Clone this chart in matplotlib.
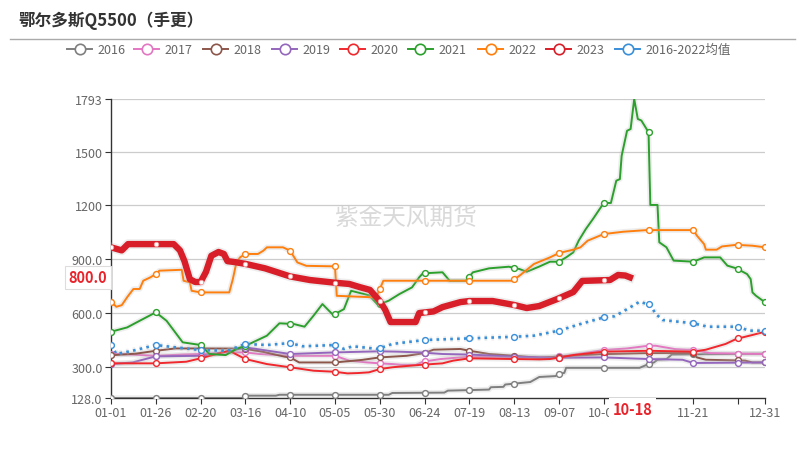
import numpy as np
import pandas as pd
import matplotlib
matplotlib.use('Agg')
import matplotlib.pyplot as plt
from matplotlib.lines import Line2D
from matplotlib import patheffects as pe
import matplotlib.transforms as mtransforms

plt.rcParams['font.family'] = ['Noto Sans CJK SC', 'DejaVu Sans']

# ---------------- data ----------------
title = '鄂尔多斯Q5500（手更）'
watermark = '紫金天风期货'
series_names = ['2016', '2017', '2018', '2019', '2020', '2021', '2022', '2023', '2016-2022均值']

# day index within a (leap) year, value
d2016 = [0, 74, 75, 92, 94, 155, 157, 186, 188, 200, 211, 212, 219, 220, 225, 234, 239, 248, 250, 253, 254, 295, 300, 303, 305, 310, 313, 365]
v2016 = [128, 128, 141, 141, 146, 146, 156, 158, 169, 172, 175, 188, 190, 203, 208, 217, 245, 250, 262, 268, 296, 296, 317, 326, 341, 345, 370, 375]

d2017 = [0, 15, 25, 40, 50, 66, 75, 83, 100, 125, 133, 143, 150, 157, 162, 170, 174, 184, 200, 225, 245, 254, 275, 288, 300, 304, 315, 321, 325, 334, 365]
v2017 = [375, 368, 363, 370, 373, 382, 382, 373, 363, 363, 336, 326, 321, 317, 313, 312, 330, 345, 358, 354, 355, 363, 395, 404, 419, 419, 400, 397, 397, 378, 373]

d2018 = [0, 14, 25, 36, 50, 74, 85, 97, 100, 105, 125, 140, 150, 165, 175, 180, 195, 200, 211, 225, 239, 275, 300, 325, 327, 332, 354, 358, 365]
v2018 = [366, 375, 391, 404, 404, 403, 385, 358, 354, 326, 326, 340, 354, 363, 378, 397, 401, 391, 373, 363, 352, 373, 378, 378, 354, 341, 336, 326, 326]

d2019 = [0, 12, 25, 50, 68, 74, 79, 100, 125, 150, 160, 172, 185, 200, 225, 245, 275, 300, 319, 325, 365]
v2019 = [317, 326, 360, 363, 391, 410, 404, 373, 382, 388, 386, 382, 373, 370, 358, 352, 354, 345, 341, 323, 326]

d2020 = [0, 25, 42, 50, 59, 66, 75, 87, 100, 113, 125, 132, 138, 144, 150, 157, 160, 172, 185, 191, 200, 225, 239, 245, 258, 275, 300, 325, 332, 343, 349, 358, 365]
v2020 = [321, 321, 330, 349, 373, 391, 345, 317, 299, 280, 274, 265, 267, 271, 289, 299, 302, 312, 321, 336, 349, 345, 343, 345, 367, 386, 391, 386, 397, 429, 457, 479, 497]

d2021 = [0, 9, 16, 25, 31, 40, 50, 55, 64, 70, 76, 87, 94, 102, 108, 113, 118, 124, 130, 134, 144, 149, 155, 161, 168, 172, 174, 185, 189, 198, 202, 211, 222, 228, 232, 239, 245, 250, 254, 258, 261, 265, 269, 275, 279, 282, 284, 285, 288, 290, 292, 294, 296, 300, 301, 305, 306, 310, 314, 325, 331, 340, 344, 349, 355, 357, 358, 360, 365]
v2021 = [497, 521, 558, 605, 558, 438, 423, 373, 367, 401, 423, 475, 544, 540, 525, 586, 651, 590, 623, 725, 700, 646, 670, 707, 744, 800, 822, 828, 781, 781, 828, 850, 859, 846, 831, 860, 887, 887, 911, 939, 1004, 1069, 1125, 1214, 1214, 1338, 1347, 1477, 1616, 1626, 1793, 1682, 1673, 1608, 1203, 1203, 995, 967, 893, 887, 911, 911, 865, 850, 818, 790, 716, 697, 661]

d2022 = [0, 3, 6, 9, 12.5, 16, 18, 22, 25.5, 27, 39.5, 40.5, 44, 45, 50, 66, 68, 70, 72, 75, 82, 85, 87, 96, 100, 104, 109, 125, 126, 148, 152, 224, 228, 236, 245, 250, 258, 262, 266, 275, 286, 299, 325, 327, 331, 332, 338, 341, 349, 358, 365]
v2022 = [664, 636, 645, 689, 735, 735, 781, 800, 822, 837, 842, 781, 772, 725, 716, 716, 790, 883, 911, 930, 930, 948, 967, 967, 948, 883, 864, 861, 697, 688, 781, 781, 809, 874, 911, 935, 954, 967, 1004, 1041, 1054, 1063, 1063, 1032, 985, 954, 954, 972, 981, 976, 967]

d2023 = [0, 6, 9.5, 35, 38.5, 41, 44, 47, 50, 53, 56, 60, 63, 65, 69, 75, 86, 100, 111, 125, 133, 139, 144.5, 150, 153, 156, 170, 172, 180, 185, 195, 200, 213, 225, 232, 239, 249, 258, 263, 278.5, 283, 287, 289.6]
v2023 = [967, 950, 985, 985, 950, 890, 790, 774, 774, 830, 920, 941, 930, 890, 885, 875, 850, 805, 785, 770, 763, 745, 730, 668, 620, 551, 551, 601, 610, 634, 662, 668, 668, 646, 629, 640, 679, 718, 780, 785, 813, 810, 800]

davg = [0, 3, 12, 25, 36, 50, 65, 75, 87, 100, 107, 125, 130, 135, 149, 157, 175, 200, 225, 236, 250, 262, 275, 281, 285, 295, 301, 304, 308, 325, 333, 350, 356, 365]
vavg = [423, 373, 391, 423, 410, 395, 391, 429, 423, 434, 416, 423, 401, 416, 401, 429, 451, 460, 469, 475, 503, 540, 577, 583, 605, 664, 646, 596, 562, 544, 525, 525, 503, 503]

series_days = [d2016, d2017, d2018, d2019, d2020, d2021, d2022, d2023, davg]
series_vals = [v2016, v2017, v2018, v2019, v2020, v2021, v2022, v2023, vavg]
colors = ['#7f7f7f', '#e377c2', '#8c564b', '#9467bd', '#f0282d', '#2ca02c', '#ff7f0e', '#d81e28', '#3a8fd9']

y_ticks = [128, 300, 600, 900, 1200, 1500, 1793]
y_tick_labels = ['128.0', '300.0', '600.0', '900.0', '1200', '1500', '1793']
tick_step = 25
hidden_labels = ['10-27', '12-16']
current_date = '10-18'
current_value_label = '800.0'

# ---------------- figure ----------------
W, H = 806, 460
fig = plt.figure(figsize=(W / 100, H / 100), dpi=100)
fig.patch.set_facecolor('white')

def fx(px):
    return px / W

def fy(py):
    return 1 - py / H

ax = fig.add_axes([fx(111), fy(399), fx(765) - fx(111), fy(100) - fy(399)])

dates = pd.date_range('2020-01-01', '2020-12-31')
date_labels = [d.strftime('%m-%d') for d in dates]
ndays = len(dates) - 1

tick_days = list(range(0, ndays + 1, tick_step))
if tick_days[-1] != ndays:
    tick_days.append(ndays)

for i, (name, dd, vv, c) in enumerate(zip(series_names, series_days, series_vals, colors)):
    dd = np.asarray(dd, float)
    vv = np.asarray(vv, float)
    is_cur = name == '2023'
    is_avg = '均值' in name
    lw = 4.6 if is_cur else (1.9 if is_avg else 1.4)
    ls = (0, (1, 1.6)) if is_avg else '-'
    z = 6 if is_cur else 3
    ax.plot(dd, vv, color=c, lw=lw, ls=ls, zorder=z, solid_joinstyle='round',
            path_effects=[pe.Stroke(linewidth=lw + 2.5, foreground='#bbbbbb', alpha=0.25), pe.Normal()])
    mdays = [t for t in tick_days if dd[0] <= t <= dd[-1]]
    mvals = np.interp(mdays, dd, vv)
    if is_cur:
        ax.plot(mdays, mvals, ls='none', marker='o', ms=3.2, mfc='white', mec='#f2a0a0', mew=0.6, zorder=z + 1)
    else:
        ax.plot(mdays, mvals, ls='none', marker='o', ms=4.2, mfc='white', mec=c, mew=1.0, zorder=z + 1)

ax.set_xlim(0, ndays)
ax.set_ylim(y_ticks[0], y_ticks[-1])
ax.set_yticks(y_ticks)
ax.set_yticklabels(y_tick_labels)
ax.set_xticks(tick_days)
xl = []
for t in tick_days:
    lab = date_labels[t]
    xl.append('' if lab in hidden_labels else lab)
ax.set_xticklabels(xl)

for y in y_ticks[1:]:
    ax.axhline(y, color='#cccccc', lw=0.9, zorder=1)

for s in ['top', 'right']:
    ax.spines[s].set_visible(False)
ax.spines['left'].set_color('#333333')
ax.spines['bottom'].set_color('#333333')
ax.spines['left'].set_linewidth(1.0)
ax.spines['bottom'].set_linewidth(1.0)
ax.tick_params(axis='both', colors='#333333', labelcolor='#666666', labelsize=9, length=4, width=0.8)
ax.tick_params(axis='x', pad=2)
ax.tick_params(axis='y', pad=2)

# watermark
ax.text(0.451, 0.605, watermark, transform=ax.transAxes, fontsize=17, color='#d9d9d9',
        ha='center', va='center', zorder=0)

# highlighted current-date label on x axis
cur_idx = date_labels.index(current_date)
trans_x = mtransforms.blended_transform_factory(ax.transData, ax.transAxes)
ax.text(cur_idx, -0.038, current_date, transform=trans_x, ha='center', va='center',
        fontsize=10.5, fontweight='bold', color='#e8232b',
        bbox=dict(boxstyle='square,pad=0.25', fc='white', ec='none'), zorder=10, clip_on=False)

# current value label on y axis
cur_val = float(v2023[-1])
trans_y = mtransforms.blended_transform_factory(ax.transAxes, ax.transData)
ax.text(-0.006, cur_val, current_value_label, transform=trans_y, ha='right', va='center',
        fontsize=10.5, fontweight='bold', color='#e8232b',
        bbox=dict(boxstyle='square,pad=0.25', fc='white', ec='#dddddd', lw=0.8), zorder=10, clip_on=False)

# title and separator
fig.text(fx(18), fy(21), title, fontsize=12, fontweight='bold', color='#333333', va='center', ha='left')
fig.add_artist(Line2D([fx(10), fx(795)], [fy(40), fy(40)], color='#aaaaaa', lw=1.0))

# legend
leg_x = [67, 134, 203, 272, 340, 408, 478, 546, 615]
ly = fy(50)
for x0, name, c in zip(leg_x, series_names, colors):
    fig.add_artist(Line2D([fx(x0), fx(x0 + 25)], [ly, ly], color=c, lw=1.4))
    fig.add_artist(Line2D([fx(x0 + 12.5)], [ly], ls='none', marker='o', ms=7.5, mfc='white', mec=c, mew=1.2))
    fig.text(fx(x0 + 30), ly, name, fontsize=9, color='#666666', va='center', ha='left')

fig.savefig('out.png', dpi=100, facecolor='white')
